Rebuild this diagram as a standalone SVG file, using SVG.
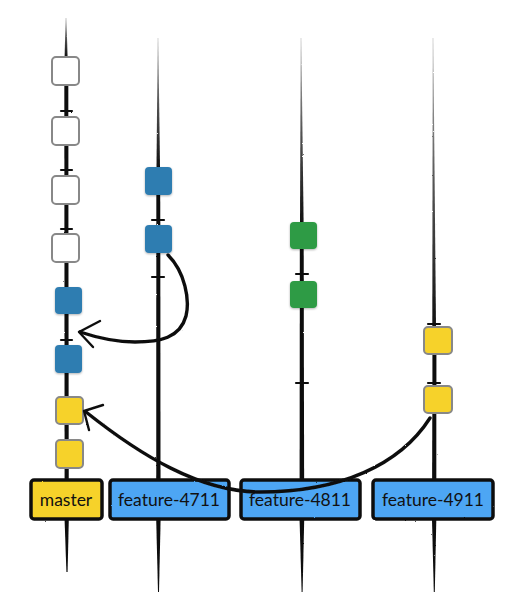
<svg xmlns="http://www.w3.org/2000/svg" width="528" height="594" viewBox="0 0 528 594">
<style>
.br{fill:#111}
.tick{stroke:#111;stroke-width:2.2;stroke-linecap:round}
.c-white{fill:#fff;stroke:#888;stroke-width:2}
.c-yellow{fill:#F6D22A;stroke:#888;stroke-width:2}
.c-blue{fill:#2F7DB1}
.c-green{fill:#2E9B45}
.lbl{stroke:#111;stroke-width:3.5;stroke-linejoin:round}
.lbl-y{fill:#F6D22A}
.lbl-b{fill:#4EA6F4}
.txt{font-family:Lato,"Open Sans","Liberation Sans",sans-serif;font-size:17.5px;fill:#111;text-anchor:middle}
.conn{stroke:#111;fill:none;stroke-linecap:round;stroke-linejoin:round}
</style>
<defs>
<linearGradient id="fade" x1="0" y1="0" x2="0" y2="1">
<stop offset="0" stop-color="#bbb"/>
<stop offset="0.5" stop-color="#555"/>
<stop offset="1" stop-color="#111"/>
</linearGradient>
<filter id="rough" x="-10%" y="-10%" width="120%" height="120%">
<feTurbulence type="fractalNoise" baseFrequency="0.9" numOctaves="2" seed="3"/>
<feDisplacementMap in="SourceGraphic" scale="1.6"/>
</filter>
<filter id="shadow" x="-20%" y="-20%" width="140%" height="140%">
<feDropShadow dx="0" dy="1" stdDeviation="1" flood-color="#000" flood-opacity="0.3"/>
</filter>
</defs>
<rect width="528" height="594" fill="#fff"/>

<g id="branch-lines" filter="url(#rough)">
<path fill="url(#fade)" d="M65.6 18 L66.4 18 L67.6 57 L64.6 57 Z"/>
<path class="br" d="M64.3 84 L68.3 84 L68.8 520 L67.6 572 L66.4 572 L64.6 520 Z"/>
<path fill="url(#fade)" d="M157.7 38 L158.3 38 L160 167 L156.5 167 Z"/>
<path class="br" d="M156.3 195 L160.2 195 L160.3 225 L156.3 225 Z"/>
<path class="br" d="M156.3 253 L160.3 253 L160.6 520 L159 592 L158 592 L156.2 520 Z"/>
<path fill="url(#fade)" d="M300.7 38 L301.3 38 L303.6 222 L300 222 Z"/>
<path class="br" d="M299.8 249 L303.7 249 L303.8 281 L299.8 281 Z"/>
<path class="br" d="M299.8 308 L303.8 308 L304.2 520 L302.6 592 L301.6 592 L299.6 520 Z"/>
<path fill="url(#fade)" d="M432.7 38 L433.3 38 L436 327 L432.3 327 Z"/>
<path class="br" d="M432.4 354 L436.4 354 L436.4 386 L432.4 386 Z"/>
<path class="br" d="M432.3 413 L436.3 413 L436.3 520 L434.8 592 L433.8 592 L432 520 Z"/>
<line class="tick" x1="61" y1="111" x2="72" y2="111"/>
<line class="tick" x1="61" y1="170" x2="72" y2="170"/>
<line class="tick" x1="61" y1="229" x2="72" y2="229"/>
<line class="tick" x1="61" y1="340" x2="72" y2="340"/>
<line class="tick" x1="152" y1="220" x2="164" y2="220"/>
<line class="tick" x1="152" y1="277" x2="164" y2="277"/>
<line class="tick" x1="296" y1="274" x2="308" y2="274"/>
<line class="tick" x1="296" y1="383" x2="308" y2="383"/>
<line class="tick" x1="428" y1="324" x2="440" y2="324"/>
<line class="tick" x1="428" y1="383" x2="440" y2="383"/>
</g>

<g id="master-c1"><rect class="c-white" x="52" y="57" width="27" height="28" rx="4"/></g>
<g id="master-c2"><rect class="c-white" x="52" y="117" width="27" height="28" rx="4"/></g>
<g id="master-c3"><rect class="c-white" x="52" y="176" width="27" height="28" rx="4"/></g>
<g id="master-c4"><rect class="c-white" x="52" y="234" width="27" height="28" rx="4"/></g>
<g id="master-c5"><rect class="c-blue" x="55" y="287" width="27" height="27" rx="4" filter="url(#shadow)"/></g>
<g id="master-c6"><rect class="c-blue" x="55" y="345" width="27" height="28" rx="4" filter="url(#shadow)"/></g>
<g id="master-c7"><rect class="c-yellow" x="56" y="397" width="27" height="27" rx="4"/></g>
<g id="master-c8"><rect class="c-yellow" x="56" y="440" width="27" height="28" rx="4"/></g>

<g id="f4711-c1"><rect class="c-blue" x="145" y="167" width="27" height="28" rx="4" filter="url(#shadow)"/></g>
<g id="f4711-c2"><rect class="c-blue" x="145" y="225" width="27" height="28" rx="4" filter="url(#shadow)"/></g>

<g id="f4811-c1"><rect class="c-green" x="290" y="222" width="27" height="27" rx="4" filter="url(#shadow)"/></g>
<g id="f4811-c2"><rect class="c-green" x="290" y="281" width="27" height="27" rx="4" filter="url(#shadow)"/></g>

<g id="f4911-c1"><rect class="c-yellow" x="424" y="327" width="28" height="27" rx="4"/></g>
<g id="f4911-c2"><rect class="c-yellow" x="424" y="386" width="28" height="27" rx="4"/></g>

<g id="label-master"><rect class="lbl lbl-y" x="31" y="480" width="71" height="39" rx="3" filter="url(#rough)"/><text class="txt" x="66" y="506">master</text></g>
<g id="label-4711"><rect class="lbl lbl-b" x="110" y="480" width="119" height="39" rx="3" filter="url(#rough)"/><text class="txt" x="169" y="506">feature-4711</text></g>
<g id="label-4811"><rect class="lbl lbl-b" x="241" y="480" width="119" height="39" rx="3" filter="url(#rough)"/><text class="txt" x="300" y="506">feature-4811</text></g>
<g id="label-4911"><rect class="lbl lbl-b" x="373" y="480" width="120" height="39" rx="3" filter="url(#rough)"/><text class="txt" x="433" y="506">feature-4911</text></g>

<g id="connectors" filter="url(#rough)">
<path class="conn" stroke-width="3.4" d="M168 255 C185 272 190 300 186 316 C180 338 160 342 135 342 C115 342 98 338 80 332"/>
<path class="conn" stroke-width="2.4" d="M79 332 L100 321 M79 332 L93 347"/>
<path class="conn" stroke-width="3.4" d="M430 418 C400 465 340 492 260 492 C200 492 140 455 86 412"/>
<path class="conn" stroke-width="2.4" d="M84 411 L103 405 M84 411 L89 430"/>
</g>
</svg>
